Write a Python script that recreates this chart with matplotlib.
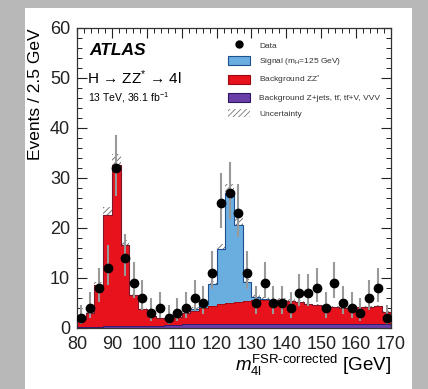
import numpy as np
import matplotlib
matplotlib.use("Agg")
import matplotlib.pyplot as plt
from matplotlib.patches import Rectangle, Patch
from matplotlib.lines import Line2D
from matplotlib.ticker import MultipleLocator

plt.rcParams['font.family'] = ['Liberation Sans', 'DejaVu Sans']
plt.rcParams['mathtext.fontset'] = 'custom'
plt.rcParams['mathtext.rm'] = 'Liberation Sans'
plt.rcParams['mathtext.it'] = 'Liberation Sans:italic'
plt.rcParams['mathtext.bf'] = 'Liberation Sans:bold'
plt.rcParams['hatch.linewidth'] = 0.6

# ---- data ----
bin_edges = np.arange(80, 170.01, 2.5)
bin_centers = bin_edges[:-1] + 1.25

data_counts = [2, 4, 8, 12, 32, 14, 9, 6, 3, 4, 2, 3, 4, 6, 5, 11, 25, 27,
               23, 11, 5, 9, 5, 5, 4, 7, 7, 8, 4, 9, 5, 4, 3, 6, 8, 2]
data_err_lo = [1.29, 1.91, 2.77, 3.38, 5.63, 3.65, 2.94, 2.38, 1.63, 1.91, 1.29, 1.63,
               1.91, 2.38, 2.16, 3.24, 4.95, 5.16, 4.74, 3.24, 2.16, 2.94, 2.16, 2.16,
               1.91, 2.58, 2.58, 2.77, 1.91, 2.94, 2.16, 1.91, 1.63, 2.38, 2.77, 1.29]
data_err_hi = [2.64, 3.16, 3.95, 4.57, 6.67, 4.84, 4.11, 3.58, 2.92, 3.16, 2.64, 2.92,
               3.16, 3.58, 3.38, 4.42, 6.03, 6.23, 5.83, 4.42, 3.38, 4.11, 3.38, 3.38,
               3.16, 3.77, 3.77, 3.95, 3.16, 4.11, 3.38, 3.16, 2.92, 3.58, 3.95, 2.64]

bkg_other = [0.3, 0.3, 0.3, 0.4, 0.4, 0.4, 0.4, 0.5, 0.5, 0.5, 0.6, 0.7,
             0.8, 0.8, 0.8, 0.9, 0.9, 0.9, 0.9, 0.9, 0.9, 0.9, 0.9, 0.9,
             0.9, 0.9, 0.9, 0.9, 0.9, 0.9, 0.9, 0.9, 0.9, 0.9, 0.9, 0.9]
bkg_zz = [1.6, 2.8, 8.3, 22.3, 32.2, 16.2, 6.2, 3.4, 2.0, 1.6, 1.3, 1.6,
          2.2, 2.7, 3.2, 3.6, 3.9, 4.2, 4.4, 4.6, 4.7, 4.8, 4.8, 4.7,
          4.6, 4.3, 4.0, 3.7, 3.5, 3.3, 3.2, 3.2, 3.3, 3.3, 3.5, 2.3]
signal = [0, 0, 0, 0, 0, 0, 0, 0, 0, 0, 0, 0,
          0.1, 0.4, 0.8, 4.4, 11.0, 22.0, 15.4, 3.7, 0.6, 0.2, 0, 0,
          0, 0, 0, 0, 0, 0, 0, 0, 0, 0, 0, 0]
rel_unc = 0.065

legend_labels = ['Data', 'Signal (m$_{\\rm H}$=125 GeV)', 'Background ZZ$^{*}$',
                 'Background Z+jets, tt\u0304, tt\u0304+V, VVV', 'Uncertainty']

# ---- colours ----
c_sig = '#6aaee0'
c_sig_edge = '#1f4f8f'
c_zz = '#e8121c'
c_zz_edge = '#9a0a10'
c_oth = '#6a3ea8'
c_oth_edge = '#2d1660'

fig = plt.figure(figsize=(4.28, 3.89), dpi=100, facecolor='#b8b8b8')
fig.patches.append(Rectangle((25/428, 0), (412-25)/428, (389-8)/389,
                             transform=fig.transFigure, facecolor='white',
                             edgecolor='none', zorder=-10))
ax = fig.add_axes([77/428, (389-328)/389, (391-77)/428, (328-28)/389])
ax.set_facecolor('none')
ax.set_zorder(5)

oth = np.array(bkg_other)
zz = np.array(bkg_zz)
sig = np.array(signal)
lvl1 = oth
lvl2 = oth + zz
lvl3 = lvl2 + sig

# uncertainty band (beneath fills)
ax.stairs(lvl3 * (1 + rel_unc), bin_edges, baseline=lvl3 * (1 - rel_unc), fill=True,
          facecolor='none', edgecolor='#666666', hatch='//////', linewidth=0, zorder=1)
ax.stairs(lvl3, bin_edges, baseline=lvl2, fill=True, facecolor=c_sig, edgecolor='none', zorder=2)
ax.stairs(lvl2, bin_edges, baseline=lvl1, fill=True, facecolor=c_zz, edgecolor='none', zorder=2)
ax.stairs(lvl1, bin_edges, baseline=0, fill=True, facecolor=c_oth, edgecolor='none', zorder=2)
ax.stairs(lvl3, bin_edges, baseline=None, color=c_sig_edge, linewidth=0.8, zorder=3)
ax.stairs(lvl2, bin_edges, baseline=None, color=c_zz_edge, linewidth=0.6, zorder=3)
ax.stairs(lvl1, bin_edges, baseline=None, color=c_oth_edge, linewidth=0.6, zorder=3)

ax.errorbar(bin_centers, data_counts, yerr=[data_err_lo, data_err_hi], fmt='o',
            color='black', ecolor='#999999', elinewidth=1.5, capsize=0,
            markersize=6, zorder=5)

ax.set_xlim(80, 170)
ax.set_ylim(0, 60)
ax.xaxis.set_major_locator(MultipleLocator(10))
ax.xaxis.set_minor_locator(MultipleLocator(2))
ax.yaxis.set_major_locator(MultipleLocator(10))
ax.yaxis.set_minor_locator(MultipleLocator(2))
ax.tick_params(which='both', direction='in', top=True, right=True, labelsize=13, colors='#222222')
ax.tick_params(which='major', length=7, width=0.8)
ax.tick_params(which='minor', length=3.5, width=0.7)
ax.tick_params(axis='x', pad=6)
ax.tick_params(axis='y', pad=5)
for s in ax.spines.values():
    s.set_linewidth(0.9)
    s.set_color('#333333')

ax.set_ylabel('Events / 2.5 GeV', loc='top', fontsize=12.5, labelpad=5)
ax.set_xlabel('$m_{4\\mathrm{l}}^{\\mathrm{FSR\u2010corrected}}$ [GeV]', loc='right',
              fontsize=13.5, labelpad=0)

ax.text(0.04, 0.925, 'ATLAS', transform=ax.transAxes, fontsize=12.5, fontweight='bold',
        fontstyle='italic', va='center', ha='left')
ax.text(0.032, 0.835, 'H \u2192 ZZ$^{*}$ \u2192 4l', transform=ax.transAxes,
        fontsize=11, va='center', ha='left')
ax.text(0.035, 0.767, r'13 TeV, 36.1 fb$^{-1}$', transform=ax.transAxes,
        fontsize=7.5, va='center', ha='left')

handles = [Line2D([], [], marker='o', color='black', linestyle='none', markersize=5),
           Patch(facecolor=c_sig, edgecolor=c_sig_edge, linewidth=0.8),
           Patch(facecolor=c_zz, edgecolor=c_zz_edge, linewidth=0.8),
           Patch(facecolor=c_oth, edgecolor=c_oth_edge, linewidth=0.8),
           Patch(facecolor='none', edgecolor='#777777', hatch='//////', linewidth=0)]
leg = ax.legend(handles, legend_labels, loc='upper left', bbox_to_anchor=(0.470, 0.968),
                frameon=False, fontsize=6, handlelength=2.64, handleheight=1.2,
                labelspacing=0.76, handletextpad=1.08, borderaxespad=0.0, borderpad=0.4)
for t in leg.get_texts():
    t.set_color('#333333')

fig.savefig('out.png', dpi=100, facecolor=fig.get_facecolor())
